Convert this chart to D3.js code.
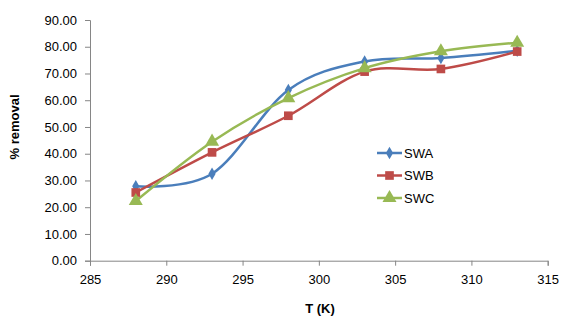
<!DOCTYPE html>
<html><head><meta charset="utf-8">
<script src="https://cdn.jsdelivr.net/npm/d3@7"></script>
<style>body{margin:0;background:#fff}svg{display:block}text{font-family:"Liberation Sans",Arial,sans-serif}</style>
</head><body>
<svg id="c" width="562" height="316"></svg>
<script>
const temps = [288, 293, 298, 303, 308, 313];
const swa = [27.8, 32.5, 63.8, 74.5, 75.8, 78.5];
const swb = [25.5, 40.5, 54.2, 70.7, 71.7, 78.2];
const swc = [22.3, 44.5, 60.8, 72.0, 78.3, 81.5];
const seriesNames = ["SWA", "SWB", "SWC"];
const seriesColors = ["#4a7ebb", "#be4b48", "#98b954"];
const xTicks = [285, 290, 295, 300, 305, 310, 315];
const yTicks = [0, 10, 20, 30, 40, 50, 60, 70, 80, 90];

const svg = d3.select("#c");
const x = d3.scaleLinear().domain([285, 315]).range([90, 547.7]);
const y = d3.scaleLinear().domain([0, 90]).range([260.7, 20]);
const axisColor = "#868686";

const xa = svg.append("g").attr("transform", `translate(0,${y(0)})`)
  .call(d3.axisBottom(x).tickValues(xTicks).tickSize(5).tickPadding(9).tickFormat(d3.format("d")));
const ya = svg.append("g").attr("transform", `translate(${x(285)},0)`)
  .call(d3.axisLeft(y).tickValues(yTicks).tickSize(5).tickPadding(8).tickFormat(d3.format(".2f")));
[xa, ya].forEach(g => {
  g.selectAll("path,line").attr("stroke", axisColor).attr("stroke-width", 1);
  g.selectAll("text").attr("font-size", 13).attr("fill", "#000")
   .style("font-family", '"Liberation Sans",Arial,sans-serif');
});

const data = [swa, swb, swc];
const line = d3.line().x((d, i) => x(temps[i])).y(d => y(d)).curve(d3.curveCardinal.tension(0));
const symbols = [d3.symbolDiamond, d3.symbolSquare, d3.symbolTriangle];
const sizes = [45, 75, 85];

data.forEach((vals, k) => {
  svg.append("path").datum(vals).attr("d", line).attr("fill", "none")
    .attr("stroke", seriesColors[k]).attr("stroke-width", 2.5);
});
data.forEach((vals, k) => {
  svg.append("g").selectAll("path").data(vals).join("path")
    .attr("transform", (d, i) => `translate(${x(temps[i])},${y(d)})`)
    .attr("d", d3.symbol().type(symbols[k]).size(sizes[k]))
    .attr("fill", seriesColors[k]);
});

// legend
const ly = [153, 175.5, 198];
seriesNames.forEach((n, k) => {
  const g = svg.append("g").attr("transform", `translate(377,${ly[k]})`);
  g.append("line").attr("x1", 0).attr("x2", 25).attr("stroke", seriesColors[k]).attr("stroke-width", 2.5);
  g.append("path").attr("transform", "translate(12.5,0)")
    .attr("d", d3.symbol().type(symbols[k]).size(sizes[k])).attr("fill", seriesColors[k]);
  g.append("text").attr("x", 27).attr("dy", "0.35em").attr("font-size", 13).text(n);
});

svg.append("text").attr("x", 320).attr("y", 313).attr("text-anchor", "middle")
  .attr("font-size", 13).attr("font-weight", "bold").text("T (K)");
svg.append("text").attr("transform", "translate(19,127) rotate(-90)").attr("text-anchor", "middle")
  .attr("font-size", 13).attr("font-weight", "bold").text("% removal");
</script>
</body></html>
